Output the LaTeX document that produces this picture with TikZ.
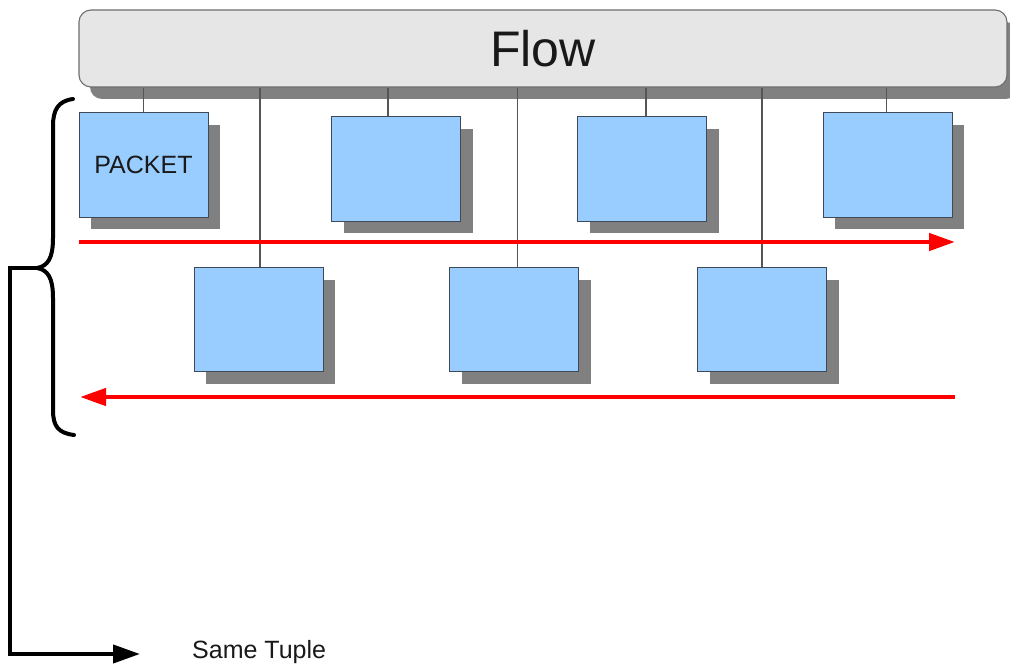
\documentclass[tikz,border=0pt]{standalone}
\usepackage{fontspec}
\setmainfont{Liberation Sans}
\usetikzlibrary{arrows.meta,shadows}
\definecolor{boxblue}{HTML}{99CCFF}
\definecolor{boxline}{HTML}{3E4A58}
\definecolor{shadowgray}{HTML}{808080}
\definecolor{flowfill}{HTML}{E6E6E6}
\definecolor{flowline}{HTML}{6E6E6E}
\definecolor{linkgray}{HTML}{555555}
\definecolor{arrowred}{HTML}{FF0000}
\begin{document}
\begin{tikzpicture}[x=1pt,y=-1pt,
  flowbox/.style={draw=flowline,line width=1.1pt,fill=flowfill,rounded corners=12pt,
    minimum width=928pt,minimum height=77pt,inner sep=0pt,
    general shadow={fill=shadowgray,shadow xshift=11pt,shadow yshift=-12pt},
    font=\fontsize{50}{55}\selectfont,text=black!90},
  packetbox/.style={draw=boxline,line width=1pt,fill=boxblue,
    minimum width=129pt,minimum height=104pt,inner sep=0pt,
    general shadow={fill=shadowgray,shadow xshift=12pt,shadow yshift=-12pt},
    font=\fontsize{25}{28}\selectfont,text=black!90},
  link/.style={draw=linkgray,line width=1.1pt},
  redarrow/.style={draw=arrowred,line width=4.5pt,-{Triangle[length=26pt,width=17pt]}},
  blackarrow/.style={draw=black,line width=4pt,-{Triangle[length=27pt,width=18pt]}},
  bracestyle/.style={draw=black,line width=4pt,line cap=round}
]
\useasboundingbox (0,0) rectangle (1010,666);

\node[flowbox] (flow) at (543,48.5) {Flow};

\node[packetbox] (p1) at (143.5,165) {PACKET};
\node[packetbox] (p2) at (396,169) {};
\node[packetbox] (p3) at (642,169) {};
\node[packetbox] (p4) at (887.5,165) {};
\node[packetbox] (q1) at (258.5,319.5) {};
\node[packetbox] (q2) at (514,319.5) {};
\node[packetbox] (q3) at (762,319.5) {};

\draw[link] (p1.north) -- (p1.north |- flow.south);
\draw[link] ([xshift=-8pt]p2.north) -- ([xshift=-8pt]p2.north |- flow.south);
\draw[link] ([xshift=4pt]p3.north) -- ([xshift=4pt]p3.north |- flow.south);
\draw[link] ([xshift=-1pt]p4.north) -- ([xshift=-1pt]p4.north |- flow.south);
\draw[link] ([xshift=1.5pt]q1.north) -- ([xshift=1.5pt]q1.north |- flow.south);
\draw[link] ([xshift=3.5pt]q2.north) -- ([xshift=3.5pt]q2.north |- flow.south);
\draw[link] (q3.north) -- (q3.north |- flow.south);

\coordinate (r1s) at (79,242);
\coordinate (r1e) at (955,242);
\coordinate (r2s) at (955,397);
\coordinate (r2e) at (80,397);
\draw[redarrow] (r1s) -- (r1e);
\draw[redarrow] (r2s) -- (r2e);

\coordinate (btop) at (73,99);
\coordinate (btip) at (37,268);
\coordinate (bbot) at (74,435);
\draw[bracestyle] (btop) .. controls (58,101) and (53,110) .. (53,126) -- (53,238)
  .. controls (53,258) and (48,266) .. (btip)
  .. controls (48,270) and (53,278) .. (53,298) -- (53,410)
  .. controls (53,426) and (58,433) .. (bbot);

\node[font=\fontsize{25}{28}\selectfont,text=black!90,anchor=base west,inner sep=0pt] (same) at (192,658) {Same Tuple};
\coordinate (corner) at (10,654);
\coordinate (aend) at (140,654);
\draw[blackarrow] (btip) -- (10,268) -- (corner) -- (aend);
\end{tikzpicture}
\end{document}
